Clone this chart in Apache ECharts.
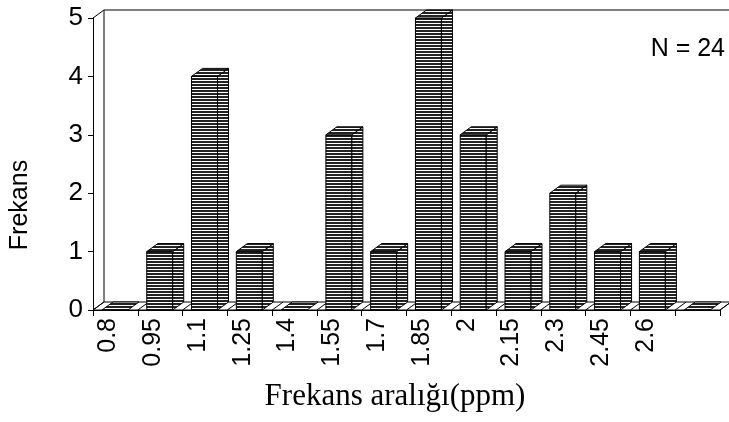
<!DOCTYPE html>
<html>
<head>
<meta charset="utf-8">
<script src="https://cdn.jsdelivr.net/npm/echarts@6/dist/echarts.min.js"></script>
<style>
  html, body { margin: 0; padding: 0; background: #fff; }
  #chart { width: 729px; height: 422px; }
</style>
</head>
<body>
<div id="chart"></div>
<script>
// Frequency-range classes (ppm) and the count in each class
const categories = ['0.8', '0.95', '1.1', '1.25', '1.4', '1.55', '1.7', '1.85', '2', '2.15', '2.3', '2.45', '2.6', ''];
const counts = [0, 1, 4, 1, 0, 3, 1, 5, 3, 1, 2, 1, 1, 0];
const yTicks = [0, 1, 2, 3, 4, 5];

// 3D look: depth offset of the box faces, in pixels
const DEPTH_X = 11;
const DEPTH_Y = 8;

// Horizontal hatch fill used for the bar faces
function makeHatch() {
  const c = document.createElement('canvas');
  c.width = 8; c.height = 3;
  const g = c.getContext('2d');
  g.fillStyle = '#ffffff';
  g.fillRect(0, 0, 8, 3);
  g.fillStyle = '#222222';
  g.fillRect(0, 0, 8, 2);
  return c;
}
const hatch = { image: makeHatch(), repeat: 'repeat' };

const chart = echarts.init(document.getElementById('chart'), null, { renderer: 'canvas' });

// Floor slab, side wall and back-wall top edge
function renderFrame(params, api) {
  const n = categories.length;
  const bw = api.size([1, 0])[0];
  const c0 = api.coord([0, yTicks[0]]);
  const cTop = api.coord([0, yTicks[yTicks.length - 1]]);
  const x0 = c0[0] - bw / 2;
  const x1 = x0 + n * bw;
  const y0 = c0[1];
  const yT = cTop[1];
  const line = { stroke: '#000', lineWidth: 1, fill: null };
  const children = [
    { type: 'polygon', shape: { points: [[x0, y0], [x1, y0], [x1 + DEPTH_X, y0 - DEPTH_Y], [x0 + DEPTH_X, y0 - DEPTH_Y]] },
      style: { fill: '#fff', stroke: '#000', lineWidth: 1 } },
    { type: 'line', shape: { x1: x0, y1: yT, x2: x0 + DEPTH_X, y2: yT - DEPTH_Y }, style: line },
    { type: 'line', shape: { x1: x0 + DEPTH_X, y1: yT - DEPTH_Y, x2: x0 + DEPTH_X, y2: y0 - DEPTH_Y }, style: line },
    { type: 'line', shape: { x1: x0 + DEPTH_X, y1: yT - DEPTH_Y, x2: x1 + DEPTH_X + 20, y2: yT - DEPTH_Y }, style: line }
  ];
  for (let k = 0; k <= n; k++) {
    const x = x0 + k * bw;
    children.push({ type: 'line', shape: { x1: x, y1: y0, x2: x + DEPTH_X, y2: y0 - DEPTH_Y }, style: line });
  }
  return { type: 'group', children };
}

// One hatched box per class
function renderBar(params, api) {
  const idx = api.value(0);
  const v = api.value(1);
  const base = api.coord([idx, 0]);
  const top = api.coord([idx, v]);
  const bw = api.size([1, 0])[0];
  const left = base[0] - bw / 2 + bw * 0.2;
  const w = bw * 0.58;
  const yb = base[1];
  const yt = top[1];
  const face = { fill: hatch, stroke: '#000', lineWidth: 1 };
  const children = [];
  if (yb - yt > 0.5) {
    children.push({ type: 'rect', shape: { x: left, y: yt, width: w, height: yb - yt }, style: face });
    children.push({ type: 'polygon', shape: { points: [[left + w, yt], [left + w + DEPTH_X, yt - DEPTH_Y], [left + w + DEPTH_X, yb - DEPTH_Y], [left + w, yb]] }, style: face });
  }
  children.push({ type: 'polygon', shape: { points: [[left, yt], [left + DEPTH_X, yt - DEPTH_Y], [left + w + DEPTH_X, yt - DEPTH_Y], [left + w, yt]] }, style: face });
  return { type: 'group', children };
}

const sansFont = '"Liberation Sans", Arial, sans-serif';

chart.setOption({
  animation: false,
  backgroundColor: '#fff',
  grid: { left: 93, right: 9, top: 18, bottom: 112, containLabel: false },
  xAxis: {
    type: 'category',
    data: categories,
    boundaryGap: true,
    axisLine: { show: true, lineStyle: { color: '#000', width: 1 } },
    axisTick: { show: true, alignWithLabel: false, length: 6, lineStyle: { color: '#000' } },
    axisLabel: {
      interval: 0, rotate: 90, margin: 8, color: '#000',
      fontFamily: sansFont, fontSize: 25, verticalAlign: 'bottom', lineHeight: 14
    },
    splitLine: { show: false }
  },
  yAxis: {
    type: 'value',
    min: yTicks[0], max: yTicks[yTicks.length - 1], interval: 1,
    axisLine: { show: true, lineStyle: { color: '#000', width: 1 } },
    axisTick: { show: true, length: 5, lineStyle: { color: '#000' } },
    axisLabel: { margin: 10, color: '#000', fontFamily: sansFont, fontSize: 26 },
    splitLine: { show: false }
  },
  graphic: [
    { type: 'text', x: 20, y: 205, rotation: Math.PI / 2,
      style: { text: 'Frekans', fontFamily: sansFont, fontSize: 25, fill: '#000', align: 'center', verticalAlign: 'middle' } },
    { type: 'text', x: 395, y: 397,
      style: { text: 'Frekans aralığı(ppm)', fontFamily: '"Liberation Serif", "Times New Roman", serif', fontSize: 31, fill: '#000', align: 'center', verticalAlign: 'middle' } },
    { type: 'text', x: 725, y: 49,
      style: { text: 'N = 24', fontFamily: sansFont, fontSize: 25, fill: '#000', align: 'right', verticalAlign: 'middle' } }
  ],
  series: [
    { type: 'custom', name: 'frame', renderItem: renderFrame, data: [[0, 0]], clip: false, silent: true, z: 1 },
    { type: 'custom', name: 'Frekans', renderItem: renderBar, data: counts.map((v, i) => [i, v]), clip: false, z: 2 }
  ]
});
</script>
</body>
</html>
